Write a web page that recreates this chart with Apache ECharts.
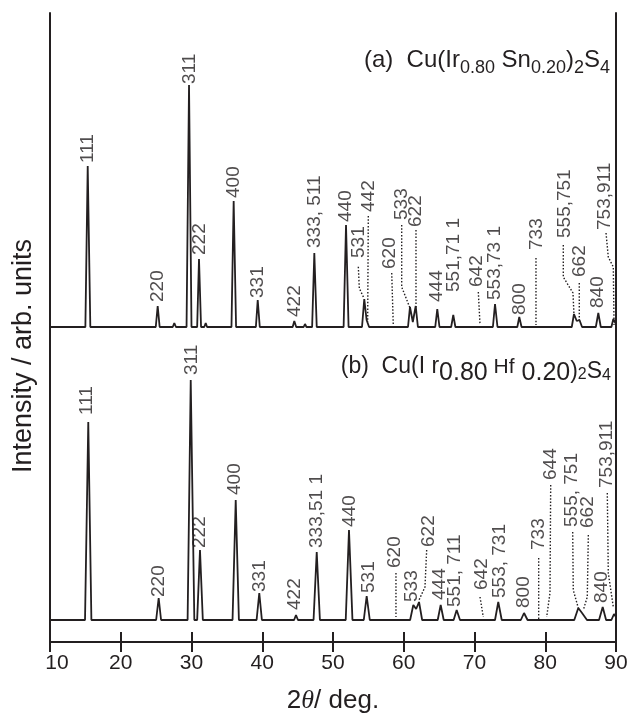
<!DOCTYPE html>
<html><head><meta charset="utf-8">
<script src="https://cdn.jsdelivr.net/npm/echarts/dist/echarts.min.js"></script>
<style>html,body{margin:0;padding:0;background:#fff}#c{width:632px;height:719px}</style>
</head><body><div id="c"></div>
<script>
// ---- x axis ticks ----
const xTickValues = [10, 20, 30, 40, 50, 60, 70, 80, 90];

// ---- pattern (a) Cu(Ir0.80Sn0.20)2S4 : [2theta, intensity] ----
const profileA = [
  [10,0],[15.0,0],[15.33,161],[15.7,0],
  [24.95,0],[25.22,21],[25.5,0],
  [27.35,0],[27.57,4],[27.8,0],
  [29.3,0],[29.65,242],[30.0,0],
  [30.8,0],[31.06,68],[31.35,0],
  [31.8,0],[32.01,4],[32.2,0],
  [35.65,0],[35.96,126],[36.3,0],
  [39.1,0],[39.36,27],[39.65,0],
  [44.3,0],[44.53,6],[44.8,0],
  [45.85,0],[46.04,3],[46.25,0],
  [47.05,0],[47.36,74],[47.7,0],
  [51.5,0],[51.84,102],[52.2,0],
  [54.1,0],[54.42,28],[54.75,7],[54.9,6],[55.1,0],
  [58.3,0],[58.48,2],[58.7,0],
  [60.6,0],[60.88,20],[61.28,5],[61.69,21],[62.0,0],
  [64.45,0],[64.74,18],[65.05,0],
  [66.7,0],[67.0,12],[67.3,0],
  [70.6,0],[70.78,2],[70.95,0],
  [72.6,0],[72.9,23],[73.25,0],
  [76.05,0],[76.33,10],[76.65,0],
  [78.5,0],[78.69,2],[78.9,0],
  [83.75,0],[84.06,13],[84.45,6],[84.84,7],[85.2,0],
  [87.15,0],[87.5,14],[87.85,0],
  [89.35,0],[89.62,8],[90,3]
];
const hklA = ['111','220','311','222','400','331','422','333, 511','440','531','442','620','533','622',
  '444','551,71 1','642','553,73 1','800','733','555,751','662','840','753,911'];
// label anchor (bottom of rotated text) in data units
const labelAtA = [[15.37,164],[25.27,25],[29.72,243],[31.13,72],[36.0,129],[39.4,29],[44.56,10],[47.39,79],
  [51.84,105],[53.58,69],[54.99,115],[58.06,58],[59.71,107],[61.73,100],[64.70,25],[67.0,35],[70.31,40],
  [72.90,27],[76.43,12],[78.79,77],[82.79,89],[84.81,50],[87.41,19],[88.45,97]];
const leadersA = [
  [[53.58,60.3],[53.72,38.7],[54.38,28.7]],
  [[54.99,111],[54.90,5]],
  [[58.30,54],[58.52,2]],
  [[59.71,102],[59.71,40],[60.88,19]],
  [[61.73,97],[61.73,19]],
  [[70.54,35],[70.78,2]],
  [[78.69,69],[78.69,2]],
  [[82.55,82],[82.55,50],[83.92,34],[84.06,12]],
  [[84.81,44],[84.81,7]],
  [[88.59,94],[88.91,70],[89.62,60],[89.72,2]]
];

// ---- pattern (b) Cu(Ir0.80Hf0.20)2S4 ----
const profileB = [
  [10,0],[14.95,0],[15.41,198],[15.85,0],
  [25.0,0],[25.36,22],[25.7,0],
  [29.45,0],[29.89,240],[30.4,0],
  [30.8,0],[31.2,70],[31.6,0],
  [35.8,0],[36.25,120],[36.7,0],
  [39.2,0],[39.58,27],[39.95,0],
  [44.5,0],[44.77,5],[45.05,0],
  [47.25,0],[47.7,68],[48.15,0],
  [51.8,0],[52.26,90],[52.75,0],
  [54.35,0],[54.76,24],[55.2,0],
  [58.75,0],[58.9,2],[59.1,0],
  [60.9,0],[61.35,15],[61.75,11],[62.16,18],[62.6,0],
  [64.8,0],[65.22,15],[65.65,0],
  [67.05,0],[67.48,10],[67.95,0],
  [71.0,0],[71.24,2],[71.5,0],
  [72.9,0],[73.36,18],[73.85,0],
  [76.55,0],[77.0,7],[77.5,0],
  [79.95,0],[80.2,2],[80.45,0],
  [84.1,0],[84.67,12],[85.2,7],[85.48,6],[85.9,0],
  [87.6,0],[88.12,13],[88.6,0],
  [89.35,0],[89.72,6],[90,3]
];
const hklB = ['111','220','311','222','400','331','422','333,51 1','440','531','620','533','622','444',
  '551, 711','642','553, 731','800','733','644','555, 751','662','840','753,911'];
const labelAtB = [[15.19,205],[25.41,23],[30.02,245],[31.2,72],[36.15,125],[39.58,28],[44.63,10],[47.69,72],
  [52.31,93],[54.99,27],[58.76,52],[61.12,18],[63.47,73],[65.12,20],[67.24,13],[71.02,30],[73.60,22],
  [76.90,12],[79.02,70],[80.77,140],[83.74,93],[85.94,92],[87.98,17],[88.68,132]];
const leadersB = [
  [[58.90,47],[58.90,3]],
  [[63.24,70],[63.0,33],[62.16,20]],
  [[70.78,23],[71.24,3]],
  [[79.07,62],[79.07,1]],
  [[80.77,135],[80.67,27],[80.20,3]],
  [[83.88,88],[83.96,30],[84.67,12]],
  [[86.09,85],[85.94,23],[85.38,10]],
  [[88.77,127],[88.91,47],[89.62,13]]
];

// ---- chart ----
const INK = '#231f20';
const FONT = '"Liberation Sans", Arial, Helvetica, sans-serif';
const chart = echarts.init(document.getElementById('c'));

function hiddenX(g) { return {gridIndex:g, type:'value', min:10, max:90, show:false}; }
function hiddenY(g, max) { return {gridIndex:g, type:'value', min:0, max:max, show:false}; }
function curve(data, idx) {
  return {type:'line', xAxisIndex:idx, yAxisIndex:idx, data:data, symbol:'none', silent:true,
    lineStyle:{color:INK, width:1.8}, z:3};
}
function labels(hkl, pos, idx) {
  return {type:'scatter', xAxisIndex:idx, yAxisIndex:idx, symbolSize:0, silent:true,
    data: hkl.map((t,i)=>({name:t, value:pos[i]})),
    label:{show:true, position:'top', distance:0, rotate:90, align:'left', verticalAlign:'middle',
      formatter:'{b}', fontSize:19, fontFamily:FONT, color:INK}, z:4};
}
function leaders(paths, idx) {
  return paths.map(p=>({type:'line', xAxisIndex:idx, yAxisIndex:idx, data:p, symbol:'none', silent:true,
    lineStyle:{color:INK, width:1.4, type:[1.5,1.8]}, z:2}));
}
const frameAxis = {
  gridIndex:0, type:'value', min:10, max:90, interval:10,
  axisLine:{show:true, lineStyle:{color:INK, width:2}},
  axisTick:{show:true, inside:true, length:10, lineStyle:{color:INK, width:2}},
  splitLine:{show:false}
};

chart.setOption({
  animation:false,
  backgroundColor:'#fff',
  grid:[
    {left:50, right:16, top:13, bottom:70},
    {left:50, right:16, top:13, bottom:392},
    {left:50, right:16, top:13, bottom:99}
  ],
  xAxis:[
    Object.assign({}, frameAxis, {position:'bottom',
      axisLabel:{show:true, margin:11, fontSize:21, fontFamily:FONT, color:INK,
        formatter: v => v === xTickValues[0] ? '{f|' + v + '}' : String(v),
        rich:{f:{padding:[0,0,0,14], fontSize:21, fontFamily:FONT, color:INK}}},
      name:'2{i|θ}/ deg.', nameLocation:'middle', nameGap:46,
      nameTextStyle:{fontSize:26, fontFamily:FONT, color:INK,
        rich:{i:{fontStyle:'italic', fontSize:26, fontFamily:'"Liberation Serif", serif', color:INK}}}}),
    Object.assign({}, frameAxis, {position:'top', axisLabel:{show:false}}),
    hiddenX(1), hiddenX(2)
  ],
  yAxis:[
    {gridIndex:0, type:'value', min:0, max:1, position:'left', axisLine:{show:true, lineStyle:{color:INK, width:2}},
      axisTick:{show:false}, axisLabel:{show:false}, splitLine:{show:false}},
    {gridIndex:0, type:'value', min:0, max:1, position:'right', axisLine:{show:true, lineStyle:{color:INK, width:2}},
      axisTick:{show:false}, axisLabel:{show:false}, splitLine:{show:false}},
    hiddenY(1, 314), hiddenY(2, 607)
  ],
  graphic:[
    {type:'text', x:24, y:356, rotation:Math.PI/2,
      style:{text:'Intensity / arb. units', fontSize:27, fontFamily:FONT, fill:INK, align:'center', verticalAlign:'middle'}},
    {type:'text', x:610, y:48,
      style:{text:'{m|(a)  Cu(Ir}{s|0.80}{m| Sn}{s|0.20}{m|)}{s|2}{m|S}{s|4}', align:'right', verticalAlign:'top', fill:INK,
        fontSize:24, fontFamily:FONT,
        rich:{m:{fontSize:24, fontFamily:FONT, fill:INK, verticalAlign:'top'},
              s:{fontSize:18, fontFamily:FONT, fill:INK, verticalAlign:'top', padding:[11,0,0,0]}}}},
    {type:'text', x:611, y:355,
      style:{text:'{m|(b)  Cu(I r}{L|0.80}{h| Hf}{L| 0.20}{p|)}{s|2}{p|S}{t|4}', align:'right', verticalAlign:'top', fill:INK,
        fontSize:23, fontFamily:FONT,
        rich:{m:{fontSize:23, fontFamily:FONT, fill:INK, verticalAlign:'top'},
              L:{fontSize:25, fontFamily:FONT, fill:INK, verticalAlign:'top', padding:[6,0,0,0]},
              h:{fontSize:21, fontFamily:FONT, fill:INK, verticalAlign:'top', padding:[2,0,0,0]},
              p:{fontSize:23, fontFamily:FONT, fill:INK, verticalAlign:'top', padding:[5,0,0,0]},
              s:{fontSize:16, fontFamily:FONT, fill:INK, verticalAlign:'top', padding:[12,0,0,0]},
              t:{fontSize:16, fontFamily:FONT, fill:INK, verticalAlign:'top', padding:[13,0,0,0]}}}}
  ],
  series:[
    curve(profileA, 2), labels(hklA, labelAtA, 2), ...leaders(leadersA, 2),
    curve(profileB, 3), labels(hklB, labelAtB, 3), ...leaders(leadersB, 3)
  ]
});
</script></body></html>
